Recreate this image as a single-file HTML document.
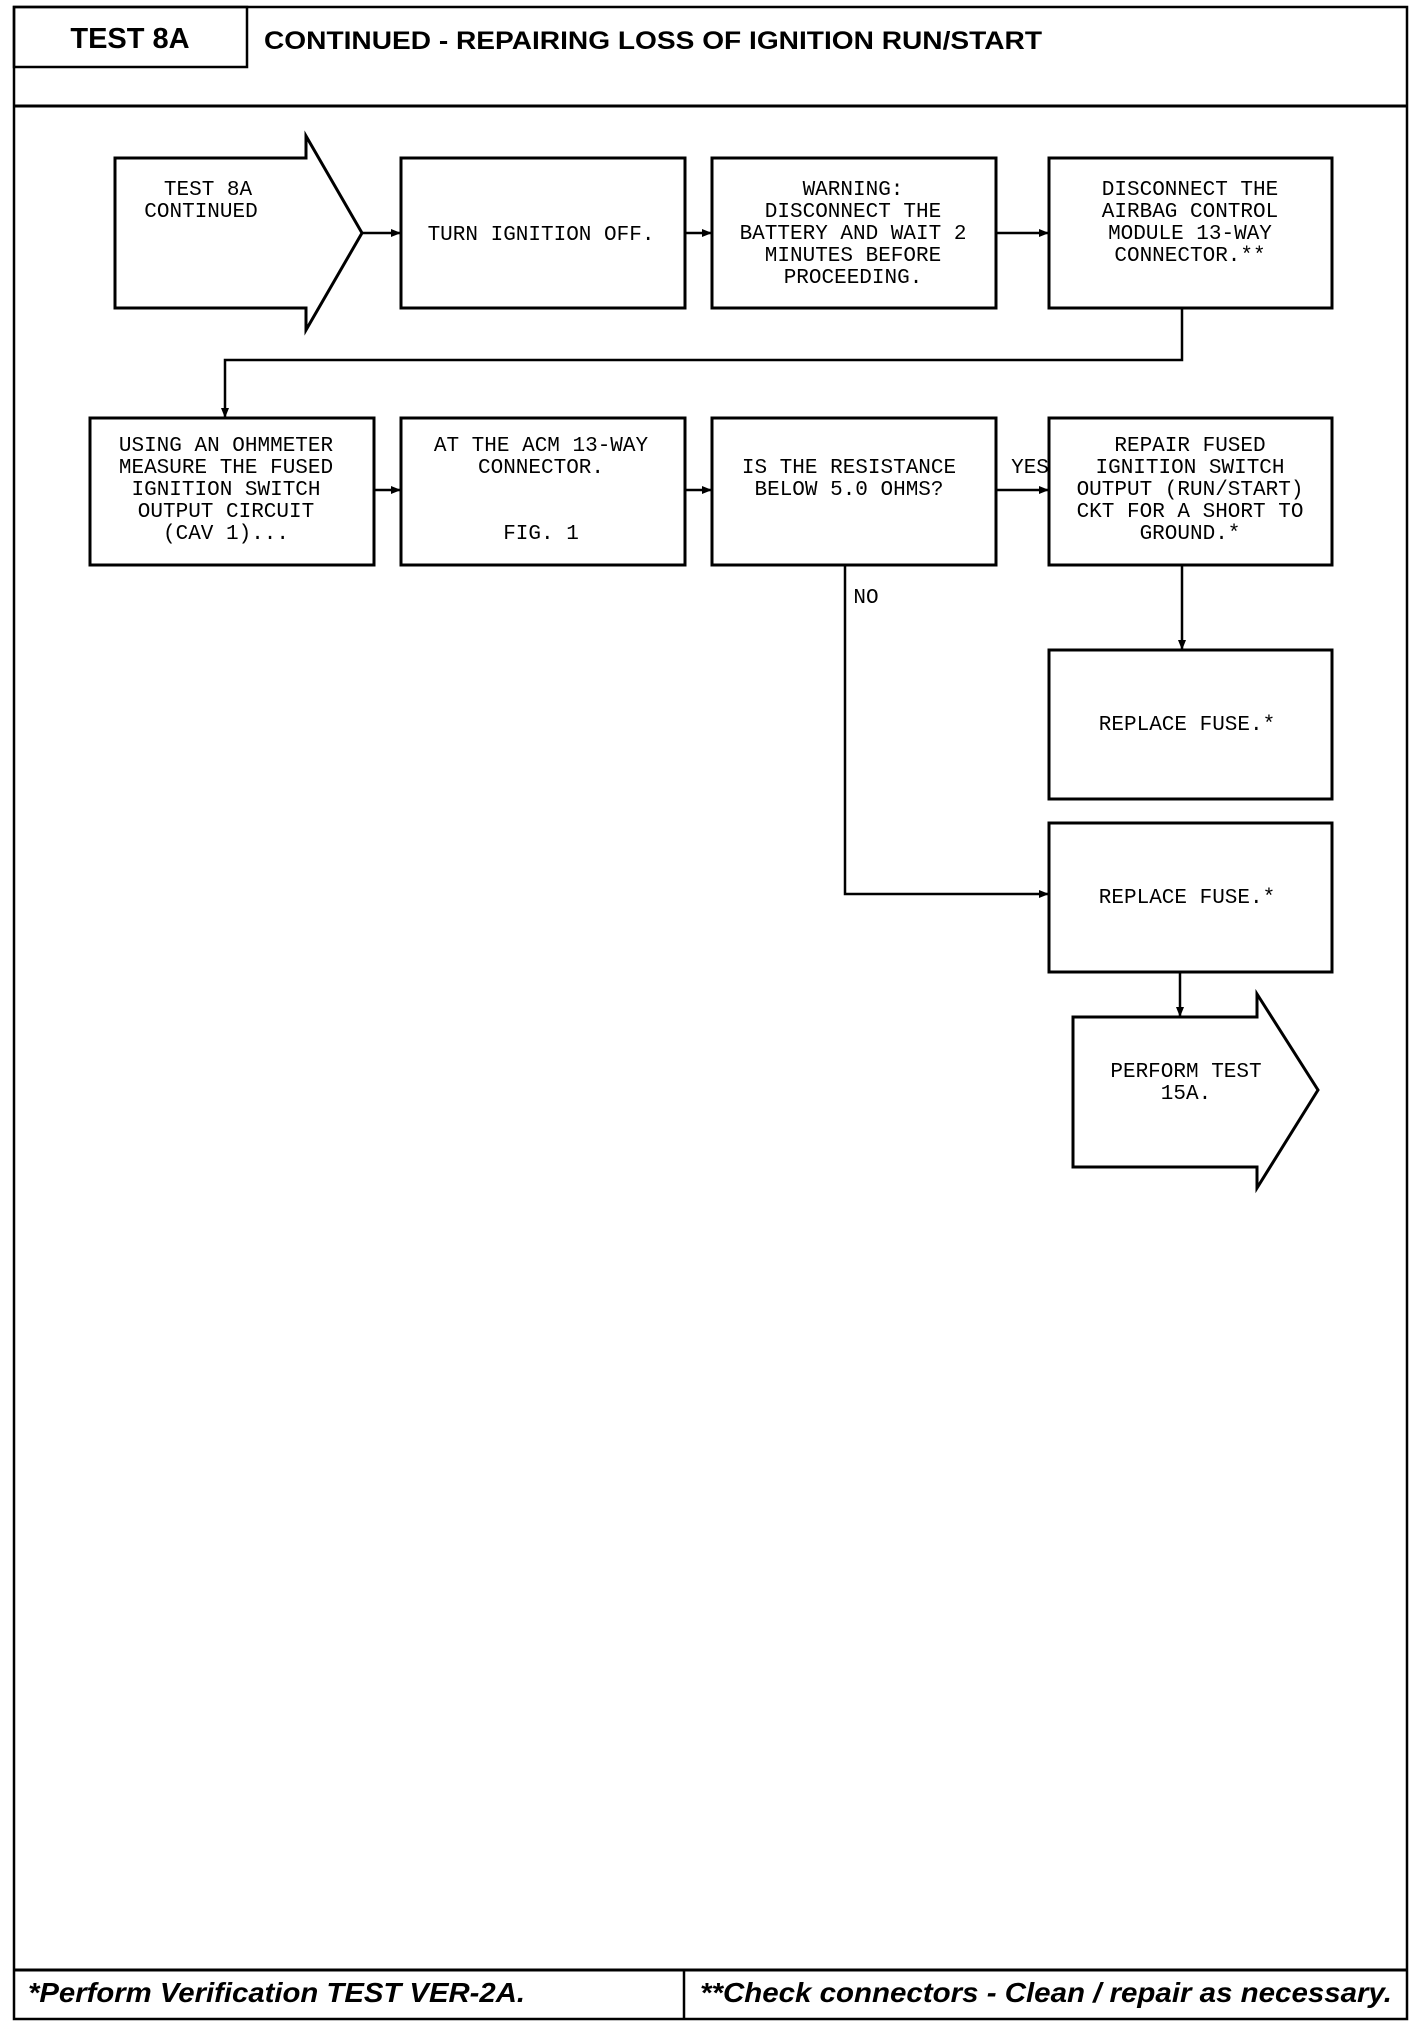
<!DOCTYPE html>
<html><head><meta charset="utf-8"><style>
html,body{margin:0;padding:0;background:#fff;}
svg{display:block;}
.t{font-family:"Liberation Mono",monospace;font-size:21px;fill:#000;text-anchor:middle;}
</style></head><body>
<svg width="1424" height="2032" viewBox="0 0 1424 2032" xmlns="http://www.w3.org/2000/svg">
<defs><marker id="a" markerWidth="10" markerHeight="10" refX="9" refY="5" orient="auto" markerUnits="userSpaceOnUse"><path d="M0,1 L10,5 L0,9 z" fill="#000"/></marker></defs>
<g fill="none" stroke="#000" stroke-width="2.5">
<rect x="14" y="7" width="1393" height="2012"/>
<line x1="14" y1="106" x2="1407" y2="106" stroke-width="3"/>
<rect x="14" y="7" width="233" height="60"/>
<line x1="14" y1="1970" x2="1407" y2="1970" stroke-width="3"/>
<line x1="684" y1="1970" x2="684" y2="2019"/>
</g>
<g fill="#fff" stroke="#000" stroke-width="3">
<path d="M115,158 L306,158 L306,136 L362,233 L306,330 L306,308 L115,308 z"/>
<rect x="401" y="158" width="284" height="150"/>
<rect x="712" y="158" width="284" height="150"/>
<rect x="1049" y="158" width="283" height="150"/>
<rect x="90" y="418" width="284" height="147"/>
<rect x="401" y="418" width="284" height="147"/>
<rect x="712" y="418" width="284" height="147"/>
<rect x="1049" y="418" width="283" height="147"/>
<rect x="1049" y="650" width="283" height="149"/>
<rect x="1049" y="823" width="283" height="149"/>
<path d="M1073,1017 L1257,1017 L1257,994 L1318,1090 L1257,1188 L1257,1167 L1073,1167 z"/>
</g>
<g fill="none" stroke="#000" stroke-width="2.5" marker-end="url(#a)">
<line x1="362" y1="233" x2="400" y2="233"/>
<line x1="685" y1="233" x2="711" y2="233"/>
<line x1="996" y1="233" x2="1048" y2="233"/>
<polyline points="1182,308 1182,360 225,360 225,417"/>
<line x1="374" y1="490" x2="400" y2="490"/>
<line x1="685" y1="490" x2="711" y2="490"/>
<line x1="996" y1="490" x2="1048" y2="490"/>
<line x1="1182" y1="565" x2="1182" y2="649"/>
<polyline points="845,565 845,894 1048,894"/>
<line x1="1180" y1="972" x2="1180" y2="1016"/>
</g>
<text x="130" y="48" font-family="Liberation Sans,sans-serif" font-weight="bold" font-size="29" text-anchor="middle">TEST 8A</text>
<text x="264" y="49" font-family="Liberation Sans,sans-serif" font-weight="bold" font-size="25" textLength="778" lengthAdjust="spacingAndGlyphs">CONTINUED - REPAIRING LOSS OF IGNITION RUN/START</text>
<text x="28" y="2002" font-family="Liberation Sans,sans-serif" font-weight="bold" font-style="italic" font-size="28" textLength="497" lengthAdjust="spacingAndGlyphs">*Perform Verification TEST VER-2A.</text>
<text x="700" y="2002" font-family="Liberation Sans,sans-serif" font-weight="bold" font-style="italic" font-size="28" textLength="692" lengthAdjust="spacingAndGlyphs">**Check connectors - Clean / repair as necessary.</text>
<g class="t">
<text x="208" y="195">TEST 8A</text>
<text x="201" y="217">CONTINUED</text>
<text x="541" y="240">TURN IGNITION OFF.</text>
<text x="853" y="195">WARNING:</text>
<text x="853" y="217">DISCONNECT THE</text>
<text x="853" y="239">BATTERY AND WAIT 2</text>
<text x="853" y="261">MINUTES BEFORE</text>
<text x="853" y="283">PROCEEDING.</text>
<text x="1190" y="195">DISCONNECT THE</text>
<text x="1190" y="217">AIRBAG CONTROL</text>
<text x="1190" y="239">MODULE 13-WAY</text>
<text x="1190" y="261">CONNECTOR.**</text>
<text x="226" y="451">USING AN OHMMETER</text>
<text x="226" y="473">MEASURE THE FUSED</text>
<text x="226" y="495">IGNITION SWITCH</text>
<text x="226" y="517">OUTPUT CIRCUIT</text>
<text x="226" y="539">(CAV 1)...</text>
<text x="541" y="451">AT THE ACM 13-WAY</text>
<text x="541" y="473">CONNECTOR.</text>
<text x="541" y="539">FIG. 1</text>
<text x="849" y="473">IS THE RESISTANCE</text>
<text x="849" y="495">BELOW 5.0 OHMS?</text>
<text x="1030" y="473">YES</text>
<text x="866" y="603">NO</text>
<text x="1190" y="451">REPAIR FUSED</text>
<text x="1190" y="473">IGNITION SWITCH</text>
<text x="1190" y="495">OUTPUT (RUN/START)</text>
<text x="1190" y="517">CKT FOR A SHORT TO</text>
<text x="1190" y="539">GROUND.*</text>
<text x="1187" y="730">REPLACE FUSE.*</text>
<text x="1187" y="903">REPLACE FUSE.*</text>
<text x="1186" y="1077">PERFORM TEST</text>
<text x="1186" y="1099">15A.</text>
</g>
</svg>
</body></html>
